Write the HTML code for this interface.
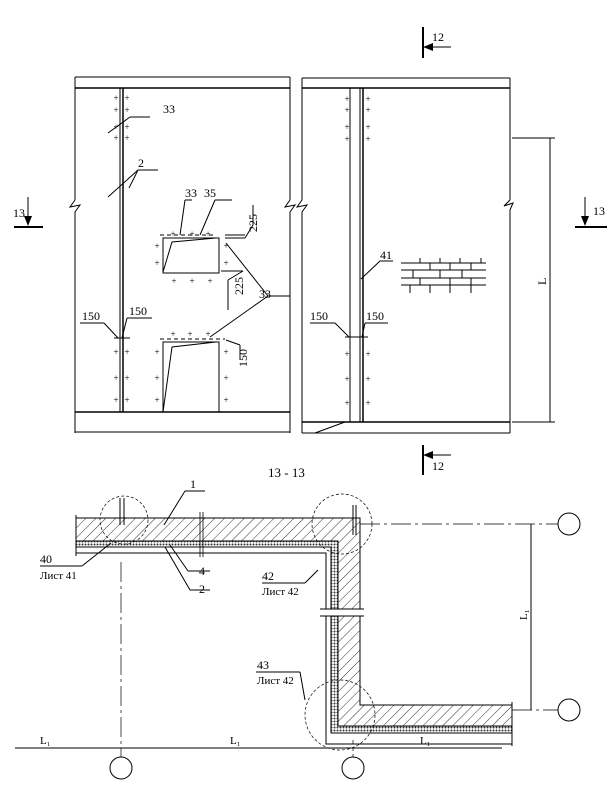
<!DOCTYPE html>
<html><head><meta charset="utf-8"><style>body{margin:0;background:#fff}svg{display:block}text{font-family:"Liberation Serif",serif;fill:#000}</style></head><body>
<svg width="615" height="790" viewBox="0 0 615 790" xmlns="http://www.w3.org/2000/svg">
<defs>
<pattern id="h" width="7" height="7" patternUnits="userSpaceOnUse" patternTransform="rotate(45)"><line x1="0" y1="0" x2="0" y2="7" stroke="#000" stroke-width="0.8"/></pattern>
<pattern id="g" width="3" height="3" patternUnits="userSpaceOnUse"><rect width="3" height="3" fill="#fff"/><circle cx="1.5" cy="1.5" r="1" fill="#333"/></pattern>
</defs>
<g stroke="#000" fill="none" stroke-width="1">
<line x1="75" y1="77" x2="290" y2="77"/><line x1="75" y1="88" x2="290" y2="88" stroke-width="1.5"/>
<line x1="75" y1="77" x2="75" y2="200"/><path d="M75 200 L70 207 L80 205 L75 212 V433"/>
<line x1="290" y1="77" x2="290" y2="200"/><path d="M290 200 L285 207 L295 205 L290 212 V433"/>
<line x1="75" y1="412" x2="290" y2="412" stroke-width="1.5"/><line x1="75" y1="432" x2="290" y2="432"/>
<line x1="120" y1="88" x2="120" y2="412"/><line x1="123" y1="88" x2="123" y2="412" stroke-width="1.5"/>
<line x1="108" y1="133" x2="130" y2="117"/><line x1="130" y1="117" x2="150" y2="117"/>
<line x1="108" y1="197" x2="138" y2="170"/><line x1="129" y1="188" x2="138" y2="170"/><line x1="138" y1="170" x2="158" y2="170"/>
<path d="M163 238 H219 V273 H163 Z" /><path d="M163 272 L172 242 L216 238"/>
<line x1="160" y1="235" x2="215" y2="235" stroke-dasharray="4 3"/>
<line x1="225" y1="235" x2="245" y2="235"/><line x1="225" y1="238" x2="245" y2="238"/>
<line x1="221" y1="271" x2="243" y2="271"/><line x1="243" y1="271" x2="228" y2="280"/><line x1="228" y1="280" x2="228" y2="310"/>
<line x1="245" y1="238" x2="253" y2="225"/><line x1="253" y1="225" x2="253" y2="205"/>
<line x1="180" y1="235" x2="185" y2="200"/><line x1="185" y1="200" x2="192" y2="200"/><line x1="200" y1="235" x2="215" y2="200"/><line x1="215" y1="200" x2="232" y2="200"/>
<path d="M163 412 V342 H219 V412"/><path d="M163 412 L172 347 L216 342"/>
<line x1="160" y1="339" x2="225" y2="339" stroke-dasharray="4 3"/>
<line x1="226" y1="340" x2="240" y2="345"/><line x1="240" y1="345" x2="240" y2="360"/>
<line x1="210" y1="337" x2="268" y2="296"/><line x1="226" y1="243" x2="268" y2="296"/><line x1="268" y1="296" x2="290" y2="296"/>
<line x1="80" y1="323" x2="104" y2="323"/><line x1="104" y1="323" x2="118" y2="338"/>
<line x1="127" y1="318" x2="152" y2="318"/><line x1="127" y1="318" x2="122" y2="338"/>
<line x1="114" y1="338" x2="130" y2="338"/>
<line x1="302" y1="78" x2="510" y2="78"/><line x1="302" y1="88" x2="510" y2="88" stroke-width="1.5"/>
<line x1="302" y1="78" x2="302" y2="200"/><path d="M302 200 L297 207 L307 205 L302 212 V433"/>
<line x1="510" y1="78" x2="510" y2="200"/><path d="M510 200 L504 206 L513 203 L510 210 V433"/>
<line x1="302" y1="422" x2="510" y2="422" stroke-width="1.5"/><line x1="302" y1="433" x2="510" y2="433"/>
<line x1="315" y1="433" x2="345" y2="422"/>
<line x1="350" y1="88" x2="350" y2="422"/><line x1="360" y1="88" x2="360" y2="422"/><line x1="363" y1="88" x2="363" y2="422" stroke-width="1.5"/>
<line x1="361" y1="279" x2="380" y2="261"/><line x1="380" y1="261" x2="393" y2="261"/>
<line x1="310" y1="323" x2="335" y2="323"/><line x1="335" y1="323" x2="349" y2="337"/>
<line x1="388" y1="323" x2="365" y2="323"/><line x1="365" y1="323" x2="362" y2="337"/>
<line x1="345" y1="337" x2="368" y2="337"/>
<line x1="512" y1="138" x2="555" y2="138"/><line x1="512" y1="422" x2="555" y2="422"/><line x1="550" y1="138" x2="550" y2="422"/>
<line x1="423" y1="27" x2="423" y2="58" stroke-width="2"/><line x1="425" y1="47" x2="451" y2="47"/>
<line x1="423" y1="445" x2="423" y2="475" stroke-width="2"/><line x1="425" y1="455" x2="451" y2="455"/>
<line x1="28" y1="197" x2="28" y2="220"/><line x1="14" y1="227" x2="43" y2="227" stroke-width="2"/>
<line x1="585" y1="197" x2="585" y2="220"/><line x1="575" y1="227" x2="607" y2="227" stroke-width="2"/>
</g>
<path d="M423 47 L433 43 L433 51Z M423 455 L433 451 L433 459Z M28 226 L24 216 L32 216Z M585 226 L581 216 L589 216Z"/>
<g font-size="9" font-family="Liberation Sans" text-anchor="middle">
<text x="116" y="101">+</text><text x="127" y="101">+</text><text x="116" y="113">+</text><text x="127" y="113">+</text><text x="116" y="130">+</text><text x="127" y="130">+</text><text x="116" y="141">+</text><text x="127" y="141">+</text>
<text x="116" y="355">+</text><text x="127" y="355">+</text><text x="116" y="381">+</text><text x="127" y="381">+</text><text x="116" y="403">+</text><text x="127" y="403">+</text>
<text x="173" y="237">+</text><text x="192" y="237">+</text><text x="208" y="237">+</text><text x="157" y="249">+</text><text x="157" y="266">+</text><text x="226" y="249">+</text><text x="226" y="266">+</text>
<text x="174" y="284">+</text><text x="192" y="284">+</text><text x="210" y="284">+</text>
<text x="173" y="337">+</text><text x="190" y="337">+</text><text x="208" y="337">+</text><text x="157" y="355">+</text><text x="157" y="381">+</text><text x="157" y="403">+</text><text x="226" y="355">+</text><text x="226" y="381">+</text><text x="226" y="403">+</text>
<text x="347" y="102">+</text><text x="368" y="102">+</text><text x="347" y="113">+</text><text x="368" y="113">+</text><text x="347" y="130">+</text><text x="368" y="130">+</text><text x="347" y="142">+</text><text x="368" y="142">+</text>
<text x="347" y="357">+</text><text x="368" y="357">+</text><text x="347" y="382">+</text><text x="368" y="382">+</text><text x="347" y="406">+</text><text x="368" y="406">+</text>
</g>
<g stroke="#000" stroke-width="1">
<line x1="401" y1="263" x2="486" y2="263"/><line x1="401" y1="270" x2="486" y2="270"/><line x1="401" y1="278" x2="486" y2="278"/><line x1="401" y1="285" x2="486" y2="285"/>
<line x1="420" y1="258" x2="420" y2="263"/><line x1="440" y1="258" x2="440" y2="263"/><line x1="460" y1="258" x2="460" y2="263"/><line x1="481" y1="258" x2="481" y2="263"/>
<line x1="430" y1="263" x2="430" y2="270"/><line x1="450" y1="263" x2="450" y2="270"/><line x1="471" y1="263" x2="471" y2="270"/>
<line x1="413" y1="270" x2="413" y2="278"/><line x1="440" y1="270" x2="440" y2="278"/><line x1="462" y1="270" x2="462" y2="278"/>
<line x1="420" y1="278" x2="420" y2="285"/><line x1="450" y1="278" x2="450" y2="285"/><line x1="471" y1="278" x2="471" y2="285"/>
<line x1="410" y1="285" x2="410" y2="293"/><line x1="430" y1="285" x2="430" y2="293"/><line x1="450" y1="285" x2="450" y2="293"/><line x1="471" y1="285" x2="471" y2="293"/>
</g>
<g font-size="12">
<text x="163" y="113">33</text><text x="138" y="167">2</text><text x="185" y="197">33</text><text x="204" y="197">35</text>
<text x="259" y="298">33</text><text x="82" y="320">150</text><text x="129" y="315">150</text>
<text x="310" y="320">150</text><text x="366" y="320">150</text><text x="380" y="259">41</text>
<text x="432" y="41">12</text><text x="432" y="470">12</text><text x="13" y="217">13</text><text x="593" y="215">13</text>
<text x="243" y="295" transform="rotate(-90 243 295)">225</text>
<text x="257" y="232" transform="rotate(-90 257 232)">225</text>
<text x="247" y="367" transform="rotate(-90 247 367)">150</text>
<text x="546" y="285" transform="rotate(-90 546 285)">L</text>
<text x="268" y="477" font-size="13">13 - 13</text>
</g>
<g stroke="#000" fill="none" stroke-width="1">
<!-- concrete -->
<path d="M76 518 H360 V705 H512 V726 H338 V541 H76 Z" fill="url(#h)"/>
<!-- insulation -->
<path d="M76 541 H338 V726 H512 V733 H331 V547 H76 Z" fill="url(#g)"/>
<!-- outer thin layer -->
<path d="M76 547 H331 V733 H512 V744 H326 V553 H76 Z" fill="#fff"/>
<line x1="76" y1="515" x2="76" y2="556"/>
<line x1="512" y1="702" x2="512" y2="746"/>
<line x1="120" y1="498" x2="120" y2="525"/><line x1="124" y1="498" x2="124" y2="525"/>
<line x1="353" y1="505" x2="353" y2="535"/><line x1="356" y1="505" x2="356" y2="535"/>
<line x1="200" y1="512" x2="200" y2="557" stroke-width="0.8"/><line x1="203" y1="512" x2="203" y2="557" stroke-width="0.8"/>
<rect x="320" y="609" width="44" height="7" fill="#fff" stroke="none"/>
<line x1="320" y1="609" x2="364" y2="609"/><line x1="320" y1="616" x2="364" y2="616"/>
<circle cx="124" cy="520" r="24" stroke-dasharray="3 2" stroke-width="0.7"/>
<circle cx="342" cy="524" r="30" stroke-dasharray="3 2" stroke-width="0.7"/>
<circle cx="340" cy="715" r="35" stroke-dasharray="3 2" stroke-width="0.7"/>
<line x1="360" y1="524" x2="558" y2="524" stroke-dasharray="20 4 3 4" stroke-width="0.7"/>
<line x1="512" y1="710" x2="558" y2="710" stroke-dasharray="20 4 3 4" stroke-width="0.7"/>
<line x1="531" y1="524" x2="531" y2="710"/>
<line x1="121" y1="562" x2="121" y2="757" stroke-dasharray="20 4 3 4" stroke-width="0.7"/>
<line x1="353" y1="740" x2="353" y2="757" stroke-dasharray="4 3" stroke-width="0.7"/>
<line x1="15" y1="748" x2="502" y2="748"/>
<circle cx="569" cy="524" r="11"/><circle cx="569" cy="710" r="11"/>
<circle cx="121" cy="768" r="11"/><circle cx="353" cy="768" r="11"/>
<line x1="164" y1="525" x2="185" y2="491"/><line x1="185" y1="491" x2="205" y2="491"/>
<line x1="170" y1="545" x2="188" y2="571"/><line x1="188" y1="571" x2="210" y2="571"/>
<line x1="165" y1="547" x2="190" y2="590"/><line x1="190" y1="590" x2="210" y2="590"/>
<line x1="111" y1="543" x2="82" y2="566"/><line x1="40" y1="566" x2="82" y2="566"/>
<line x1="318" y1="570" x2="305" y2="583"/><line x1="262" y1="583" x2="305" y2="583"/>
<line x1="305" y1="700" x2="300" y2="672"/><line x1="256" y1="672" x2="300" y2="672"/>
</g>
<g font-size="12">
<text x="190" y="488">1</text><text x="199" y="575">4</text><text x="199" y="593">2</text>
<text x="40" y="563">40</text><text x="40" y="579" font-size="11">Лист 41</text>
<text x="262" y="580">42</text><text x="262" y="595" font-size="11">Лист 42</text>
<text x="257" y="669">43</text><text x="257" y="684" font-size="11">Лист 42</text>
<text x="40" y="744" font-size="11">L₁</text><text x="230" y="744" font-size="11">L₁</text><text x="420" y="744" font-size="11">L₁</text>
<text x="527" y="620" font-size="11" transform="rotate(-90 527 620)">L₁</text>
</g>
</svg>
</body></html>
